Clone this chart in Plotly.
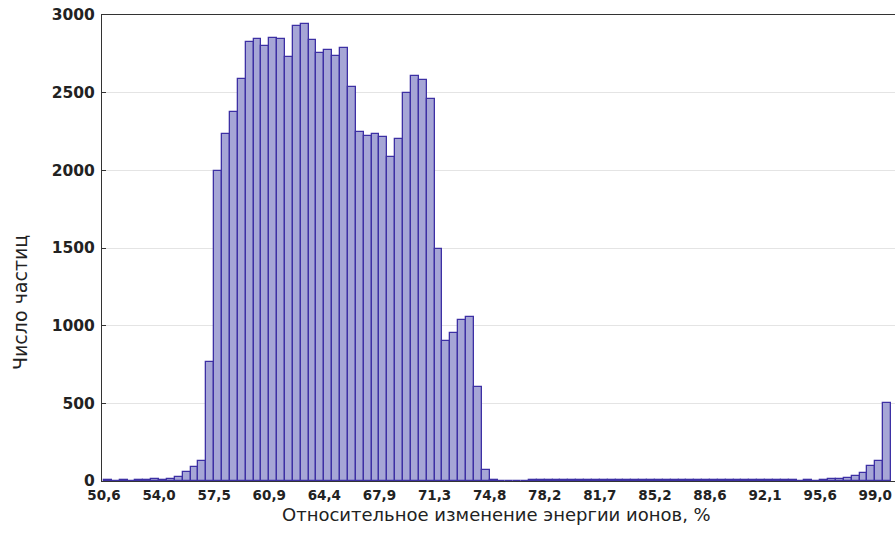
import plotly.graph_objects as go

# ---- data ----
bin_start = 50.6
bin_width = 0.4939
counts = [4, 3, 4, 3, 5, 8, 12, 8, 10, 28,
          56, 89, 131, 768, 1998, 2234, 2378, 2588, 2825, 2844,
          2803, 2850, 2848, 2728, 2932, 2943, 2840, 2754, 2773, 2739,
          2790, 2535, 2245, 2219, 2232, 2217, 2084, 2200, 2496, 2610,
          2582, 2458, 1492, 903, 955, 1037, 1058, 603, 71, 5,
          3, 2, 2, 3, 6, 7, 6, 5, 8, 7,
          4, 5, 6, 8, 7, 5, 4, 6, 7, 8,
          6, 5, 6, 7, 9, 8, 7, 6, 5, 6,
          7, 5, 6, 5, 4, 5, 6, 4, 3, 4,
          3, 6, 10, 14, 21, 32, 54, 99, 126, 505]
x_tick_labels = ["50,6", "54,0", "57,5", "60,9", "64,4", "67,9", "71,3", "74,8",
                 "78,2", "81,7", "85,2", "88,6", "92,1", "95,6", "99,0"]
y_tick_vals = [0, 500, 1000, 1500, 2000, 2500, 3000]
x_title = "Относительное изменение энергии ионов, %"
y_title = "Число частиц"

centers = [bin_start + bin_width * (k + 0.5) for k in range(len(counts))]
label_pos = [bin_start + 7 * bin_width * j for j in range(len(x_tick_labels))]
minor_pos = [bin_start + 5 * bin_width * j for j in range(21)]

W, H = 895, 545
PL, PR, PT, PB = 102, 895, 15, 481          # plot area in page pixels
L, R, T, B = PL, W - PR, PT, H - PB
plotW, plotH = PR - PL, PB - PT
pxu = bin_width / 7.87
x0 = bin_start - 2 * pxu
x1 = x0 + plotW * pxu

fig = go.Figure()
fig.add_trace(go.Bar(
    x=centers, y=counts, width=bin_width,
    marker=dict(color="#a6a6d6", line=dict(color="#3d30a4", width=1.3)),
    hoverinfo="x+y", showlegend=False,
))

tickfont = dict(family="DejaVu Sans", size=13.5, color="#222222", weight="bold")

fig.update_layout(
    width=W, height=H,
    margin=dict(l=L, r=R, t=T, b=B, pad=0, autoexpand=False),
    paper_bgcolor="white", plot_bgcolor="white",
    bargap=0,
    xaxis=dict(range=[x0, x1], tickmode="array", tickvals=label_pos, ticktext=x_tick_labels,
               ticks="", showgrid=False, zeroline=False, showline=True, mirror=True,
               linecolor="#333333", linewidth=1.2, tickfont=tickfont, ticklabelstandoff=2,
               automargin=False),
    xaxis2=dict(range=[x0, x1], overlaying="x", side="bottom", anchor="y",
                tickmode="array", tickvals=minor_pos, ticks="inside", ticklen=4,
                tickcolor="#333333", showticklabels=False, showgrid=False,
                zeroline=False, showline=False, mirror="ticks", automargin=False),
    yaxis=dict(range=[0, 3000], tickmode="array", tickvals=y_tick_vals,
               ticks="inside", ticklen=4, tickcolor="#333333",
               showgrid=True, gridcolor="#e4e4e4", gridwidth=1, zeroline=False,
               showline=True, linecolor="#333333", linewidth=1.2,
               tickfont=dict(family="DejaVu Sans", size=15.5, color="#222222", weight="bold"),
               ticklabelstandoff=3, automargin=False),
    annotations=[
        dict(text=x_title, xref="paper", yref="paper",
             x=(496 - PL) / plotW, y=(PB - 514) / plotH,
             xanchor="center", yanchor="middle", showarrow=False,
             font=dict(family="DejaVu Sans", size=18, color="#222222")),
        dict(text=y_title, xref="paper", yref="paper",
             x=(20 - PL) / plotW, y=(PB - 303) / plotH,
             xanchor="center", yanchor="middle", showarrow=False, textangle=-90,
             font=dict(family="DejaVu Sans", size=19, color="#222222")),
    ],
)

fig.write_html("out.html", config={"displayModeBar": False},
               post_script="document.body.style.margin='0';document.body.style.overflow='hidden';")
